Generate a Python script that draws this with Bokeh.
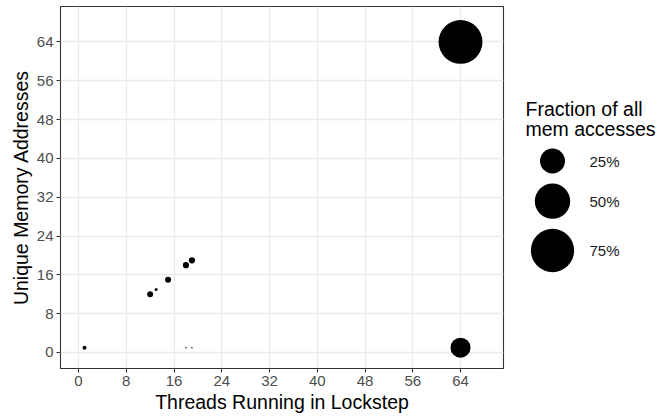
import numpy as np
from bokeh.plotting import figure
from bokeh.layouts import row
from bokeh.models import Range1d, FixedTicker, ColumnDataSource
from bokeh.core.properties import value
from bokeh.embed import file_html
from bokeh.resources import INLINE

# ---- data ----
threads = [1, 12, 13, 15, 18, 19, 18, 19, 64, 64]
addresses = [1, 12, 13, 15, 18, 19, 1, 1, 1, 64]
fraction = [0.0064, 0.014, 0.0036, 0.0145, 0.0155, 0.0155, 0.0009, 0.0009, 0.16, 0.77]
ticks = [0, 8, 16, 24, 32, 40, 48, 56, 64]
legend_values = [0.25, 0.50, 0.75]
legend_labels = ["25%", "50%", "75%"]

FONT = "Liberation Sans"
K = 50.0  # diameter (px) at fraction 1 -> area proportional to fraction


def size_of(f):
    return K * np.sqrt(np.asarray(f, dtype=float))


W_MAIN, H = 510, 416
B_TOP, B_BOT = 6, 48
p = figure(width=W_MAIN, height=H, output_backend="svg", toolbar_location=None,
           x_range=Range1d(-3.02, 71.2), y_range=Range1d(-3.3, 71.3),
           min_border_left=60, min_border_right=7, min_border_top=B_TOP, min_border_bottom=B_BOT)
p.background_fill_color = "white"
p.border_fill_color = "white"
p.outline_line_color = "#333333"
p.outline_line_width = 1.1

src = ColumnDataSource(dict(x=threads, y=addresses, s=size_of(fraction)))
p.scatter("x", "y", size="s", source=src, fill_color="black", line_color=None)

for ax in (p.xaxis[0], p.yaxis[0]):
    ax.ticker = FixedTicker(ticks=ticks)
    ax.axis_line_color = None
    ax.major_tick_line_color = "#333333"
    ax.major_tick_line_width = 1.1
    ax.major_tick_out = 4
    ax.major_tick_in = 0
    ax.minor_tick_line_color = None
    ax.major_label_text_font = FONT
    ax.major_label_text_font_size = "15px"
    ax.major_label_text_color = "#4D4D4D"
    ax.major_label_standoff = 3
    ax.axis_label_text_font = FONT
    ax.axis_label_text_font_size = "19.5px"
    ax.axis_label_text_font_style = "normal"
    ax.axis_label_text_color = "black"
    ax.axis_label_standoff = 2

p.xaxis.axis_label = "Threads Running in Lockstep"
p.yaxis.axis_label = "Unique Memory Addresses"
p.yaxis.major_label_orientation = "horizontal"

p.xgrid.ticker = FixedTicker(ticks=ticks)
p.ygrid.ticker = FixedTicker(ticks=ticks)
for g in (p.xgrid[0], p.ygrid[0]):
    g.grid_line_color = "#EBEBEB"
    g.grid_line_width = 1.3

# ---- legend panel (frame aligned with main frame; y in page px) ----
W_LEG = 156
lg = figure(width=W_LEG, height=H, output_backend="svg", toolbar_location=None,
            x_range=Range1d(0, W_LEG), y_range=Range1d(H - B_BOT, B_TOP),
            x_axis_location=None, y_axis_location=None,
            min_border_left=0, min_border_right=0,
            min_border_top=B_TOP, min_border_bottom=B_BOT)
lg.outline_line_color = None
lg.grid.visible = False
lg.background_fill_color = "white"
lg.border_fill_color = "white"

lg.text(x=[15, 15], y=[108, 128], text=["Fraction of all", "mem accesses"],
        text_font=value(FONT), text_font_size="19.5px", text_baseline="middle",
        text_align="left", text_color="black")

leg_d = size_of(legend_values)
pad = 10.0
heights = leg_d + pad
top = 143.0
centers = top + np.cumsum(heights) - heights / 2
lg.scatter(x=[42] * len(legend_values), y=centers, size=leg_d,
           fill_color="black", line_color=None)
lg.text(x=[79] * len(legend_values), y=centers, text=legend_labels,
        text_font=value(FONT), text_font_size="15px", text_baseline="middle",
        text_align="left", text_color="#1A1A1A")

layout = row(p, lg)
open("out.html", "w").write(file_html(layout, INLINE))
